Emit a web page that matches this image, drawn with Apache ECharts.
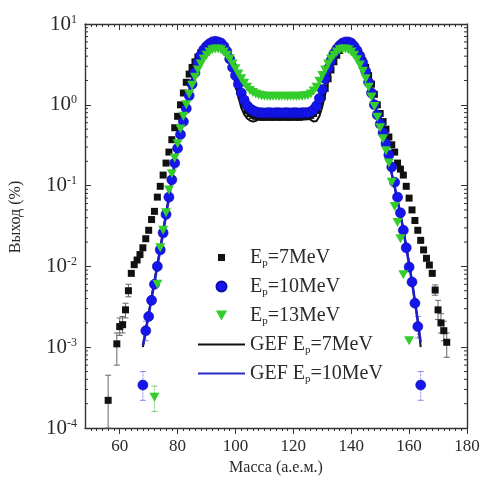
<!DOCTYPE html>
<html>
<head>
<meta charset="utf-8">
<script src="https://cdn.jsdelivr.net/npm/echarts@6/dist/echarts.min.js"></script>
<style>
  html, body { margin: 0; padding: 0; background: #fff; }
  #chart { width: 484px; height: 481px; }
</style>
</head>
<body>
<div id="chart"></div>
<script>
function range(a, b) { const r = []; for (let m = a; m <= b; m++) r.push(m); return r; }

// ---- Fragment mass yields (%), per proton energy ----
// Ep = 7 MeV (measured)
const mass7 = [56].concat(range(59, 173));
const yield7 = [
  2.2e-4,
  1.1e-3, 1.8e-3, 1.9e-3, 2.9e-3, 5.0e-3, 8.2e-3, 1.05e-2, 1.2e-2, 1.4e-2, 1.7e-2,        // 59-68
  2.2e-2, 2.8e-2, 3.8e-2, 4.8e-2, 7.2e-2, 9.8e-2, 0.135, 0.19, 0.26, 0.37,              // 69-78
  0.52, 0.72, 1.0, 1.4, 1.9, 2.4, 2.9, 3.4, 3.9, 4.4,                                   // 79-88
  4.8, 5.2, 5.5, 5.7, 5.8, 5.8, 5.6, 5.2, 4.6, 3.8,                                     // 89-98
  3.0, 2.3, 1.7, 1.3, 1.0, 0.85, 0.78, 0.74, 0.72, 0.71,                                // 99-108
  0.70, 0.70, 0.71, 0.70, 0.70, 0.71, 0.70, 0.70, 0.71, 0.70,                           // 109-118
  0.70, 0.71, 0.70, 0.70, 0.71, 0.71, 0.72, 0.74, 0.78, 0.85,                           // 119-128
  1.0, 1.25, 1.6, 2.1, 2.7, 3.4, 4.1, 4.7, 5.2, 5.5,                                    // 129-138
  5.7, 5.6, 5.2, 4.7, 4.1, 3.5, 2.9, 2.3, 1.8, 1.35,                                    // 139-148
  1.0, 0.78, 0.62, 0.50, 0.40, 0.32, 0.26, 0.19, 0.16, 0.135,                           // 149-158
  0.098, 0.07, 0.05, 0.037, 0.028, 0.021, 0.016, 0.0126, 0.0104, 0.0082,                // 159-168
  0.0051, 0.0029, 0.0020, 0.0016, 0.00115                                               // 169-173
];

// Ep = 10 MeV (measured)
const mass10 = [68].concat(range(69, 163), [164]);
const yield10 = [
  3.4e-4,
  1.6e-3, 2.4e-3, 3.8e-3, 6.0e-3, 1.0e-2, 1.6e-2, 2.6e-2, 4.4e-2, 7.2e-2, 0.118,        // 69-78
  0.19, 0.29, 0.43, 0.62, 0.9, 1.3, 1.8, 2.5, 3.3, 4.1,                                 // 79-88
  4.8, 5.3, 5.7, 6.0, 6.1, 6.0, 5.8, 5.3, 4.6, 3.7,                                     // 89-98
  2.9, 2.3, 1.8, 1.4, 1.15, 0.98, 0.90, 0.85, 0.82, 0.80,                               // 99-108
  0.80, 0.79, 0.80, 0.80, 0.79, 0.80, 0.80, 0.79, 0.80, 0.80,                           // 109-118
  0.79, 0.80, 0.80, 0.79, 0.80, 0.80, 0.80, 0.82, 0.87, 0.97,                           // 119-128
  1.2, 1.55, 2.1, 2.8, 3.5, 4.3, 4.9, 5.4, 5.8, 6.0,                                    // 129-138
  6.0, 5.8, 5.3, 4.7, 4.0, 3.3, 2.6, 1.9, 1.4, 1.0,                                     // 139-148
  0.75, 0.58, 0.45, 0.33, 0.24, 0.17, 0.11, 0.072, 0.046, 0.028,                        // 149-158
  0.017, 0.0098, 0.0064, 0.0035, 0.0018,                                                // 159-163
  3.4e-4
];

// Ep = 13 MeV (measured)
const mass13 = [72].concat(range(73, 158), [160]);
const yield13 = [
  2.4e-4,
  0.006, 0.017, 0.028, 0.046, 0.088, 0.14,                                              // 73-78
  0.22, 0.33, 0.5, 0.72, 1.0, 1.35, 1.75, 2.2, 2.7, 3.2,                                // 79-88
  3.7, 4.1, 4.5, 4.8, 4.9, 4.9, 4.8, 4.5, 4.1, 3.7,                                     // 89-98
  3.2, 2.8, 2.4, 2.1, 1.85, 1.65, 1.5, 1.42, 1.36, 1.32,                                // 99-108
  1.29, 1.28, 1.28, 1.27, 1.28, 1.28, 1.27, 1.28, 1.28, 1.27,                           // 109-118
  1.28, 1.28, 1.27, 1.28, 1.28, 1.29, 1.30, 1.36, 1.48, 1.65,                           // 119-128
  1.95, 2.3, 2.7, 3.2, 3.7, 4.1, 4.5, 4.8, 4.9, 4.9,                                    // 129-138
  4.8, 4.5, 4.1, 3.6, 3.1, 2.6, 2.1, 1.65, 1.25, 0.95,                                  // 139-148
  0.7, 0.52, 0.38, 0.27, 0.19, 0.11, 0.055, 0.035, 0.022, 0.0079,                       // 149-158
  0.0012                                                                                // 160
];

// GEF calculations
const massGef = range(68, 164);
const gef7 = [
  1.0e-3, 1.6e-3, 2.6e-3, 4.2e-3, 6.7e-3, 1.07e-2, 1.7e-2, 2.8e-2, 4.6e-2, 7.4e-2,     // 68-77
  0.12, 0.19, 0.30, 0.46, 0.70, 1.05, 1.5, 2.1, 2.8, 3.5,                               // 78-87
  4.2, 4.8, 5.3, 5.7, 5.9, 6.0, 5.9, 5.6, 5.1, 4.4,                                     // 88-97
  3.5, 2.6, 1.8, 1.25, 0.92, 0.76, 0.68, 0.64, 0.62, 0.63,                              // 98-107
  0.67, 0.70, 0.71, 0.71, 0.71, 0.71, 0.71, 0.71, 0.71, 0.71,                           // 108-117
  0.71, 0.71, 0.71, 0.71, 0.71, 0.71, 0.71, 0.69, 0.65, 0.62,                           // 118-127
  0.63, 0.72, 0.95, 1.35, 1.9, 2.6, 3.4, 4.2, 4.9, 5.5,                                 // 128-137
  5.9, 6.0, 5.8, 5.4, 4.8, 4.1, 3.4, 2.7, 2.0, 1.45,                                    // 138-147
  1.05, 0.76, 0.55, 0.40, 0.29, 0.20, 0.14, 0.097, 0.066, 0.044,                        // 148-157
  0.029, 0.018, 0.011, 0.0065, 0.0037, 0.0021, 0.0010                                   // 158-164
];
const gef10 = [
  1.05e-3, 1.6e-3, 2.5e-3, 4.0e-3, 6.3e-3, 1.0e-2, 1.6e-2, 2.6e-2, 4.3e-2, 7.0e-2,     // 68-77
  0.115, 0.19, 0.30, 0.45, 0.68, 1.0, 1.45, 2.0, 2.7, 3.4,                              // 78-87
  4.1, 4.8, 5.4, 5.8, 6.1, 6.2, 6.1, 5.9, 5.4, 4.8,                                     // 88-97
  4.0, 3.2, 2.4, 1.8, 1.35, 1.05, 0.90, 0.82, 0.78, 0.80,                               // 98-107
  0.83, 0.84, 0.84, 0.84, 0.84, 0.84, 0.84, 0.84, 0.84, 0.84,                           // 108-117
  0.84, 0.84, 0.84, 0.84, 0.84, 0.84, 0.84, 0.82, 0.79, 0.79,                           // 118-127
  0.84, 0.98, 1.3, 1.8, 2.5, 3.3, 4.1, 4.9, 5.5, 5.9,                                   // 128-137
  6.1, 6.1, 5.9, 5.5, 4.9, 4.2, 3.4, 2.7, 2.0, 1.45,                                    // 138-147
  1.02, 0.74, 0.54, 0.39, 0.28, 0.20, 0.14, 0.097, 0.066, 0.044,                        // 148-157
  0.028, 0.017, 0.0105, 0.0064, 0.0037, 0.0021, 0.00115                                 // 158-164
];

// Error bars: [mass, low, high]
const err7 = [
  [56, 1.0e-4, 4.5e-4], [59, 6.0e-4, 1.5e-3], [60, 1.4e-3, 2.3e-3], [61, 1.5e-3, 2.4e-3],
  [62, 2.3e-3, 3.5e-3], [63, 4.2e-3, 6.0e-3],
  [169, 4.4e-3, 5.9e-3], [170, 2.2e-3, 3.8e-3], [171, 1.5e-3, 2.6e-3], [172, 1.2e-3, 2.1e-3],
  [173, 7.5e-4, 1.5e-3]
];
const err10 = [[68, 2.2e-4, 5.0e-4], [164, 2.2e-4, 5.0e-4], [69, 1.2e-3, 2.1e-3], [163, 1.3e-3, 2.4e-3]];
const err13 = [[72, 1.6e-4, 3.3e-4]];

// Axis ticks
const xMajor = [60, 80, 100, 120, 140, 160, 180];
const xMinor = range(25, 90).map(k => 2 * k);
const yMinor = [];
[-4, -3, -2, -1, 0].forEach(e => { for (let k = 2; k <= 9; k++) yMinor.push(k * Math.pow(10, e)); });

const FONT = 'Liberation Serif';
const INK = '#2a2a2a';
const X_MIN = 48, X_MAX = 180;

const zip = (xs, ys) => xs.map((x, i) => [x, ys[i]]);

function errRenderer(color, dashed) {
  return function (params, api) {
    const m = api.value(0);
    const lo = api.coord([m, api.value(1)]);
    const hi = api.coord([m, api.value(2)]);
    const w = 3;
    const st = { stroke: color, lineWidth: 1, lineDash: dashed ? [2, 1] : null };
    return { type: 'group', children: [
      { type: 'line', shape: { x1: lo[0], y1: lo[1], x2: hi[0], y2: hi[1] }, style: st },
      { type: 'line', shape: { x1: hi[0] - w, y1: hi[1], x2: hi[0] + w, y2: hi[1] }, style: { stroke: color, lineWidth: 1 } },
      { type: 'line', shape: { x1: lo[0] - w, y1: lo[1], x2: lo[0] + w, y2: lo[1] }, style: { stroke: color, lineWidth: 1 } }
    ]};
  };
}

const downTri = 'path://M0,0 L10,0 L5,9 Z';
// legend icons (padded square keeps the key small inside the item box)
const legendSquare = 'path://M-1.5,-1.5 M0,0 L7,0 L7,7 L0,7 Z M8.5,8.5';
const legendLine = 'path://M0,0 L48,0 L48,2.2 L0,2.2 Z';

const chart = echarts.init(document.getElementById('chart'));
chart.setOption({
  animation: false,
  backgroundColor: '#fff',
  grid: { left: 82, right: 17, top: 24, bottom: 53, containLabel: false },
  xAxis: [
    {
      type: 'value', min: X_MIN, max: X_MAX, position: 'bottom',
      name: 'Масса (а.е.м.)', nameLocation: 'middle', nameGap: 31,
      nameTextStyle: { fontFamily: FONT, fontSize: 16, color: INK },
      axisLine: { show: true, lineStyle: { color: '#333', width: 1.4 } },
      axisTick: { show: true, inside: false, length: 6, customValues: xMajor, lineStyle: { color: '#333' } },
      axisLabel: { customValues: xMajor, margin: 10, fontFamily: FONT, fontSize: 17, color: INK },
      splitLine: { show: false }
    },
    {
      type: 'value', min: X_MIN, max: X_MAX, position: 'bottom',
      axisLine: { show: false },
      axisTick: { show: true, inside: false, length: 3, customValues: xMinor, lineStyle: { color: '#333' } },
      axisLabel: { show: false }, splitLine: { show: false }
    },
    {
      type: 'value', min: X_MIN, max: X_MAX, position: 'top',
      axisLine: { show: true, lineStyle: { color: '#333', width: 1.4 } },
      axisTick: { show: true, inside: true, length: 6, customValues: xMajor, lineStyle: { color: '#333' } },
      axisLabel: { show: false }, splitLine: { show: false }
    },
    {
      type: 'value', min: X_MIN, max: X_MAX, position: 'top',
      axisLine: { show: false },
      axisTick: { show: true, inside: true, length: 3, customValues: xMinor, lineStyle: { color: '#333' } },
      axisLabel: { show: false }, splitLine: { show: false }
    }
  ],
  yAxis: [
    {
      type: 'log', logBase: 10, min: 1e-4, max: 10, position: 'left',
      name: 'Выход (%)', nameLocation: 'middle', nameGap: 61,
      nameTextStyle: { fontFamily: FONT, fontSize: 16, color: INK, padding: [0, 0, 0, 18] },
      axisLine: { show: true, lineStyle: { color: '#333', width: 1.4 } },
      axisTick: { show: true, inside: true, length: 6, lineStyle: { color: '#333' } },
      axisLabel: {
        margin: 8, fontFamily: FONT, fontSize: 21, color: INK,
        formatter: v => '10{sup|' + Math.round(Math.log10(v)) + '}',
        rich: { sup: { fontFamily: FONT, fontSize: 12, color: INK, verticalAlign: 'top', padding: [0, 0, 9, 0] } }
      },
      splitLine: { show: false }
    },
    {
      type: 'log', logBase: 10, min: 1e-4, max: 10, position: 'right',
      axisLine: { show: true, lineStyle: { color: '#333', width: 1.4 } },
      axisTick: { show: true, inside: true, length: 6, lineStyle: { color: '#333' } },
      axisLabel: { show: false }, splitLine: { show: false }
    }
  ],
  legend: {
    orient: 'vertical', left: 193, top: 241,
    itemWidth: 47, itemHeight: 10, itemGap: 6,
    selectedMode: false,
    data: [
      { name: 'Ep=7MeV', icon: legendSquare },
      { name: 'Ep=10MeV', icon: 'circle' },
      { name: 'Ep=13MeV', icon: downTri },
      { name: 'GEF Ep=7MeV', icon: legendLine },
      { name: 'GEF Ep=10MeV', icon: legendLine }
    ],
    formatter: n => n.replace('Ep', 'E{sub|p}'),
    textStyle: {
      fontFamily: FONT, fontSize: 20, color: INK, lineHeight: 23,
      rich: { sub: { fontFamily: FONT, fontSize: 11, color: INK, verticalAlign: 'bottom', lineHeight: 11 } }
    }
  },
  series: [
    { name: 'GEF Ep=7MeV', type: 'line', data: zip(massGef, gef7), showSymbol: false, symbol: 'none',
      lineStyle: { color: '#111', width: 2 }, itemStyle: { color: '#111' }, z: 2 },
    { name: 'GEF Ep=10MeV', type: 'line', data: zip(massGef, gef10), showSymbol: false, symbol: 'none',
      lineStyle: { color: '#1f1fd0', width: 2.5 }, itemStyle: { color: '#2a2ac8' }, z: 2 },
    { type: 'custom', data: err7, renderItem: errRenderer('#666', false), clip: false, silent: true, z: 1 },
    { type: 'custom', data: err10, renderItem: errRenderer('#8c8cf0', true), clip: false, silent: true, z: 1 },
    { type: 'custom', data: err13, renderItem: errRenderer('#7fd07f', true), clip: false, silent: true, z: 1 },
    { name: 'Ep=7MeV', type: 'scatter', data: zip(mass7, yield7), symbol: 'rect', symbolSize: 7,
      itemStyle: { color: '#111', opacity: 1 }, z: 3 },
    { name: 'Ep=10MeV', type: 'scatter', data: zip(mass10, yield10), symbol: 'circle', symbolSize: 10,
      itemStyle: { color: '#1515ee', borderColor: '#0c0ca8', borderWidth: 0.6, opacity: 1 }, z: 4 },
    { name: 'Ep=13MeV', type: 'scatter', data: zip(mass13, yield13), symbol: downTri, symbolSize: [10, 9],
      itemStyle: { color: '#33cc2a', opacity: 1 }, z: 5 },
    {
      type: 'custom', silent: true, clip: false, z: 6,
      data: yMinor.map(v => [X_MIN, v]),
      renderItem: function (params, api) {
        const v = api.value(1);
        const pl = api.coord([X_MIN, v]);
        const pr = api.coord([X_MAX, v]);
        const st = { stroke: '#333', lineWidth: 1 };
        return { type: 'group', children: [
          { type: 'line', shape: { x1: pl[0], y1: pl[1], x2: pl[0] + 3, y2: pl[1] }, style: st },
          { type: 'line', shape: { x1: pr[0] - 3, y1: pr[1], x2: pr[0], y2: pr[1] }, style: st }
        ]};
      }
    }
  ]
});
</script>
</body>
</html>
